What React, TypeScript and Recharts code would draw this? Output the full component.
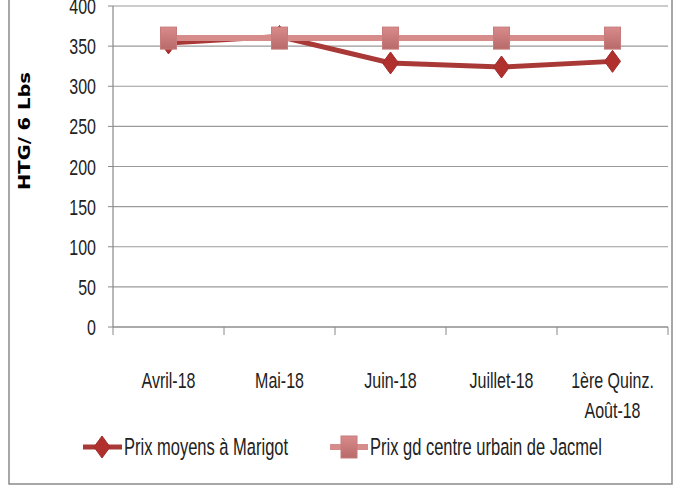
import { LineChart, Line, XAxis, YAxis, CartesianGrid, Legend, Label } from "recharts";

const categories = ["Avril-18", "Mai-18", "Juin-18", "Juillet-18", "1ère Quinz.\nAoût-18"];
const marigot = [354, 362, 329, 324, 331];
const jacmel = [360, 360, 360, 360, 360];
const yTicks = [0, 50, 100, 150, 200, 250, 300, 350, 400];

const seriesMarigot = "Prix moyens à Marigot";
const seriesJacmel = "Prix gd centre urbain de Jacmel";

const data = categories.map((c, i) => ({
  pos: i + 0.5,
  cat: c,
  marigot: marigot[i],
  jacmel: jacmel[i],
}));

const xTicks: number[] = [];
for (let i = 0; i <= categories.length * 2; i++) xTicks.push(i / 2);

const FONT = "'Liberation Sans', Arial, sans-serif";
const DARK = "#A93937";
const PINK = "#D68C8B";
const STRETCH = 1.4;

// text drawn taller than wide, like the squeezed Calibri of the original
const TallText = ({ x, y, anchor = "start", size = 16, children }: any) => (
  <text
    transform={`translate(${x},${y}) scale(1,${STRETCH})`}
    x={0}
    y={0}
    textAnchor={anchor}
    fontFamily={FONT}
    fontSize={size}
    fill="#222"
  >
    {children}
  </text>
);

const Diamond = (props: any) => {
  const { cx, cy } = props;
  if (cx == null || cy == null) return null;
  return (
    <path
      d={`M${cx},${cy - 11} L${cx + 8},${cy} L${cx},${cy + 11} L${cx - 8},${cy} Z`}
      fill="#B0302E"
      stroke="#A12C2A"
      strokeWidth={1}
    />
  );
};

const Square = (props: any) => {
  const { cx, cy } = props;
  if (cx == null || cy == null) return null;
  return (
    <g>
      <defs>
        <linearGradient id="sqGrad" x1="0" y1="0" x2="0" y2="1">
          <stop offset="0%" stopColor="#D98A8A" />
          <stop offset="100%" stopColor="#B8696A" />
        </linearGradient>
      </defs>
      <rect x={cx - 8} y={cy - 11} width={16} height={22} fill="url(#sqGrad)" stroke="#C77B7B" strokeWidth={1} />
    </g>
  );
};

const XTick = (props: any) => {
  const { x, y, payload } = props;
  const v = payload.value as number;
  if (Number.isInteger(v)) {
    return <line x1={x} x2={x} y1={y - 8} y2={y} stroke="#888" strokeWidth={1} />;
  }
  const lines = categories[Math.floor(v)].split("\n");
  return (
    <g>
      {lines.map((l, i) => (
        <TallText key={i} x={x} y={y + 53 + i * 30} anchor="middle">
          {l}
        </TallText>
      ))}
    </g>
  );
};

const YTick = (props: any) => {
  const { x, y, payload } = props;
  return (
    <TallText x={x} y={y + 8} anchor="end">
      {payload.value}
    </TallText>
  );
};

const LegendContent = () => (
  <svg width={675} height={30}>
    <g>
      <line x1={83} x2={122} y1={15} y2={15} stroke={DARK} strokeWidth={5} />
      <Diamond cx={102} cy={15} />
      <TallText x={124} y={23} size={16.5}>
        {seriesMarigot}
      </TallText>
    </g>
    <g>
      <line x1={330} x2={368} y1={15} y2={15} stroke={PINK} strokeWidth={6} />
      <Square cx={349} cy={15} />
      <TallText x={370} y={23} size={16.5}>
        {seriesJacmel}
      </TallText>
    </g>
  </svg>
);

const YLabel = () => (
  <text
    x={0}
    y={0}
    transform="translate(30,131) rotate(-90)"
    textAnchor="middle"
    fontFamily="'DejaVu Sans', sans-serif"
    fontWeight="bold"
    fontSize={15}
    fill="#000"
    textLength={118}
    lengthAdjust="spacingAndGlyphs"
  >
    HTG/ 6 Lbs
  </text>
);

export default function App() {
  return (
    <div style={{ position: "absolute", left: 0, top: 0, width: 675, height: 488, background: "#fff", overflow: "hidden" }}>
      <LineChart
        width={675}
        height={488}
        data={data}
        margin={{ top: 6, right: 7, left: 0, bottom: 0 }}
      >
        <CartesianGrid horizontal vertical={false} stroke="#9a9a9a" strokeWidth={1.2} />
        <XAxis
          dataKey="pos"
          type="number"
          domain={[0, categories.length]}
          ticks={xTicks}
          interval={0}
          tickLine={false}
          tick={<XTick />}
          axisLine={{ stroke: "#888", strokeWidth: 1.2 }}
          height={131}
        />
        <YAxis
          domain={[0, 400]}
          ticks={yTicks}
          interval={0}
          width={113}
          tickSize={5}
          tickLine={{ stroke: "#888" }}
          axisLine={{ stroke: "#888", strokeWidth: 1.2 }}
          tick={<YTick />}
          tickMargin={12}
        >
          <Label content={<YLabel />} />
        </YAxis>
        <Legend
          verticalAlign="bottom"
          content={<LegendContent />}
          wrapperStyle={{ left: 0, bottom: 26, width: 675, height: 30 }}
        />
        <Line
          dataKey="marigot"
          name={seriesMarigot}
          stroke={DARK}
          strokeWidth={5}
          dot={<Diamond />}
          activeDot={false}
          isAnimationActive={false}
        />
        <Line
          dataKey="jacmel"
          name={seriesJacmel}
          stroke={PINK}
          strokeWidth={6}
          dot={<Square />}
          activeDot={false}
          isAnimationActive={false}
        />
      </LineChart>
      <svg
        width={675}
        height={488}
        style={{ position: "absolute", left: 0, top: 0, zIndex: 5, pointerEvents: "none" }}
      >
        <polyline points="9,-5 9,484 672,484 672,-5" fill="none" stroke="#8a8a8a" strokeWidth={1.5} />
      </svg>
    </div>
  );
}
